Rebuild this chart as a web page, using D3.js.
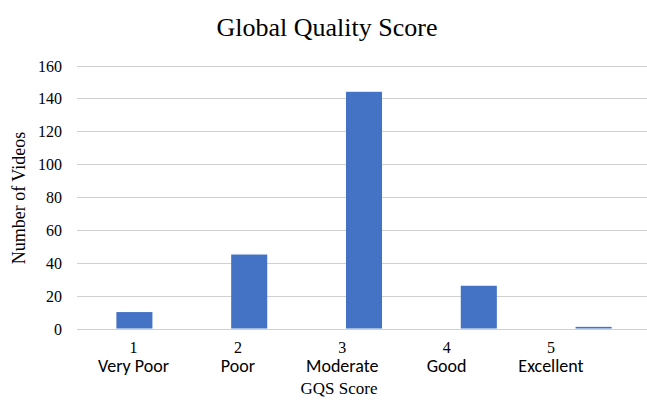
<!DOCTYPE html>
<html><head><meta charset="utf-8">
<script src="https://cdn.jsdelivr.net/npm/d3@7"></script>
<style>body{margin:0;background:#fff}svg{display:block}</style>
</head><body>
<script>
const scores = ["1","2","3","4","5"];
const ratings = ["Very Poor","Poor","Moderate","Good","Excellent"];
const videoCounts = [10, 45, 144, 26, 1];
const yTicks = [0,20,40,60,80,100,120,140,160];

const W = 647, H = 400;
const svg = d3.select("body").append("svg").attr("width", W).attr("height", H);
const serif = "'Liberation Serif','Times New Roman',serif";
const sans = "Carlito, Lato, 'Noto Sans', sans-serif";

const x = d3.scaleBand().domain(scores).range([77, 651]).paddingInner(0.686).paddingOuter(0.343);
const y = d3.scaleLinear().domain([0,160]).range([328.5, 65.5]);
const xl = d3.scalePoint().domain(scores).range([133.5, 551]);

// gridlines
svg.append("g").selectAll("line").data(yTicks).join("line")
  .attr("x1", 77).attr("x2", 651)
  .attr("y1", d => Math.round(y(d)) + 0.5).attr("y2", d => Math.round(y(d)) + 0.5)
  .attr("stroke", "#d0d0d0").attr("stroke-width", 1);

// y tick labels
svg.append("g").selectAll("text").data(yTicks).join("text")
  .attr("x", 62).attr("y", d => y(d) + 6)
  .attr("text-anchor", "end")
  .attr("font-family", serif).attr("font-size", 16).attr("fill", "#000")
  .text(d => d);

// bars
svg.append("g").selectAll("rect").data(videoCounts).join("rect")
  .attr("x", (d,i) => x(scores[i]))
  .attr("width", x.bandwidth())
  .attr("y", d => y(d))
  .attr("height", d => y(0) - y(d))
  .attr("fill", "#4472C4");

// x labels
svg.append("g").selectAll("text").data(scores).join("text")
  .attr("x", d => xl(d)).attr("y", 353)
  .attr("text-anchor", "middle")
  .attr("font-family", serif).attr("font-size", 16).attr("fill", "#000")
  .text(d => d);
svg.append("g").selectAll("text").data(ratings).join("text")
  .attr("x", (d,i) => xl(scores[i])).attr("y", 372)
  .attr("text-anchor", "middle")
  .attr("font-family", sans).attr("font-size", 18).attr("fill", "#000")
  .text(d => d);

// title
svg.append("text").attr("x", 327).attr("y", 36).attr("text-anchor", "middle")
  .attr("font-family", serif).attr("font-size", 26).attr("fill", "#000")
  .text("Global Quality Score");

// axis titles
svg.append("text").attr("x", 339).attr("y", 394).attr("text-anchor", "middle")
  .attr("font-family", serif).attr("font-size", 17).attr("fill", "#000")
  .text("GQS Score");
svg.append("text").attr("transform", "translate(25,198) rotate(-90)")
  .attr("text-anchor", "middle")
  .attr("font-family", serif).attr("font-size", 18).attr("fill", "#000")
  .text("Number of Videos");
</script>
</body></html>
